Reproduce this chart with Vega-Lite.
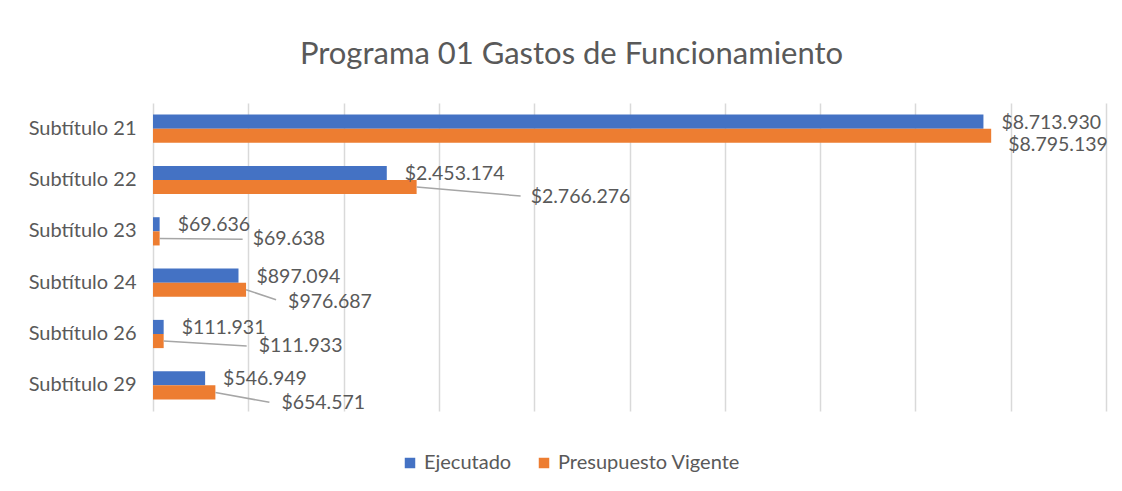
{
  "$schema": "https://vega.github.io/schema/vega-lite/v6.json",
  "width": 953,
  "height": 308,
  "autosize": "none",
  "padding": {"left": 153, "top": 103, "right": 16, "bottom": 80},
  "background": "white",
  "config": {
    "locale": {"number": {"decimal": ",", "thousands": ".", "grouping": [3], "currency": ["$", ""]}},
    "view": {"stroke": null},
    "font": "Lato"
  },
  "title": {
    "text": "Programa 01 Gastos de Funcionamiento",
    "fontSize": 31,
    "font": "Lato",
    "fontWeight": "normal",
    "color": "#595959",
    "anchor": "middle",
    "dx": -58,
    "offset": 32
  },
  "data": {
    "values": [
      {"cat": "Subtítulo 21", "serie": "Ejecutado", "valor": 8713930},
      {"cat": "Subtítulo 21", "serie": "Presupuesto Vigente", "valor": 8795139},
      {"cat": "Subtítulo 22", "serie": "Ejecutado", "valor": 2453174},
      {"cat": "Subtítulo 22", "serie": "Presupuesto Vigente", "valor": 2766276},
      {"cat": "Subtítulo 23", "serie": "Ejecutado", "valor": 69636},
      {"cat": "Subtítulo 23", "serie": "Presupuesto Vigente", "valor": 69638},
      {"cat": "Subtítulo 24", "serie": "Ejecutado", "valor": 897094},
      {"cat": "Subtítulo 24", "serie": "Presupuesto Vigente", "valor": 976687},
      {"cat": "Subtítulo 26", "serie": "Ejecutado", "valor": 111931},
      {"cat": "Subtítulo 26", "serie": "Presupuesto Vigente", "valor": 111933},
      {"cat": "Subtítulo 29", "serie": "Ejecutado", "valor": 546949},
      {"cat": "Subtítulo 29", "serie": "Presupuesto Vigente", "valor": 654571}
    ]
  },
  "encoding": {
    "y": {
      "field": "cat",
      "type": "nominal",
      "sort": null,
      "scale": {"paddingInner": 0.45, "paddingOuter": 0.225},
      "axis": {"title": null, "ticks": false, "domain": false, "grid": false, "labelPadding": 17, "labelFontSize": 20, "labelFont": "Lato", "labelColor": "#595959"}
    },
    "yOffset": {"field": "serie", "type": "nominal", "sort": ["Ejecutado", "Presupuesto Vigente"]},
    "x": {
      "field": "valor",
      "type": "quantitative",
      "scale": {"domain": [0, 10000000], "nice": false},
      "axis": {"title": null, "labels": false, "ticks": false, "domain": false, "grid": true, "gridColor": "#d9d9d9", "gridWidth": 1.5,
        "values": [0, 1000000, 2000000, 3000000, 4000000, 5000000, 6000000, 7000000, 8000000, 9000000, 10000000]}
    }
  },
  "layer": [
    {
      "mark": {"type": "bar"},
      "encoding": {
        "color": {
          "field": "serie",
          "type": "nominal",
          "scale": {"domain": ["Ejecutado", "Presupuesto Vigente"], "range": ["#4472C4", "#ED7D31"]},
          "legend": {"title": null, "orient": "none", "legendX": 247, "legendY": 350, "direction": "horizontal", "symbolType": "square", "symbolSize": 110, "symbolStrokeWidth": 0, "labelFontSize": 20, "labelFont": "Lato", "labelColor": "#595959", "labelOffset": 4, "labelLimit": 400, "columnPadding": 22, "padding": 0}
        }
      }
    },
    {
      "transform": [{"filter": "datum.serie === 'Ejecutado'"}],
      "mark": {"type": "text", "align": "left", "baseline": "middle", "dx": 18, "dy": 1, "fontSize": 19.5, "font": "Lato", "color": "#595959"},
      "encoding": {"text": {"field": "valor", "type": "quantitative", "format": "$,.0f"}}
    },
    {
      "transform": [{"filter": "datum.serie === 'Presupuesto Vigente' && datum.cat === 'Subtítulo 21'"}],
      "mark": {"type": "text", "align": "left", "baseline": "middle", "dx": 17, "dy": 9, "fontSize": 19.5, "font": "Lato", "color": "#595959"},
      "encoding": {"text": {"field": "valor", "type": "quantitative", "format": "$,.0f"}}
    },
    {
      "transform": [{"filter": "datum.serie === 'Presupuesto Vigente' && datum.cat === 'Subtítulo 22'"}],
      "mark": {"type": "text", "align": "left", "baseline": "middle", "dx": 114, "dy": 10, "fontSize": 19.5, "font": "Lato", "color": "#595959"},
      "encoding": {"text": {"field": "valor", "type": "quantitative", "format": "$,.0f"}}
    },
    {
      "transform": [{"filter": "datum.serie === 'Presupuesto Vigente' && datum.cat === 'Subtítulo 23'"}],
      "mark": {"type": "text", "align": "left", "baseline": "middle", "dx": 93, "dy": 1, "fontSize": 19.5, "font": "Lato", "color": "#595959"},
      "encoding": {"text": {"field": "valor", "type": "quantitative", "format": "$,.0f"}}
    },
    {
      "transform": [{"filter": "datum.serie === 'Presupuesto Vigente' && datum.cat === 'Subtítulo 24'"}],
      "mark": {"type": "text", "align": "left", "baseline": "middle", "dx": 42, "dy": 12, "fontSize": 19.5, "font": "Lato", "color": "#595959"},
      "encoding": {"text": {"field": "valor", "type": "quantitative", "format": "$,.0f"}}
    },
    {
      "transform": [{"filter": "datum.serie === 'Presupuesto Vigente' && datum.cat === 'Subtítulo 26'"}],
      "mark": {"type": "text", "align": "left", "baseline": "middle", "dx": 95, "dy": 5, "fontSize": 19.5, "font": "Lato", "color": "#595959"},
      "encoding": {"text": {"field": "valor", "type": "quantitative", "format": "$,.0f"}}
    },
    {
      "transform": [{"filter": "datum.serie === 'Presupuesto Vigente' && datum.cat === 'Subtítulo 29'"}],
      "mark": {"type": "text", "align": "left", "baseline": "middle", "dx": 66, "dy": 11, "fontSize": 19.5, "font": "Lato", "color": "#595959"},
      "encoding": {"text": {"field": "valor", "type": "quantitative", "format": "$,.0f"}}
    },
    {
      "transform": [{"filter": "datum.serie === 'Presupuesto Vigente' && datum.cat === 'Subtítulo 22'"}],
      "mark": {"type": "rule", "color": "#a6a6a6", "strokeWidth": 1.5, "x2Offset": 104, "yOffset": 1, "y2Offset": 16},
      "encoding": {"x2": {"field": "valor"}, "y2": {"field": "cat"}}
    },
    {
      "transform": [{"filter": "datum.serie === 'Presupuesto Vigente' && datum.cat === 'Subtítulo 23'"}],
      "mark": {"type": "rule", "color": "#a6a6a6", "strokeWidth": 1.5, "x2Offset": 83, "yOffset": 1, "y2Offset": 8},
      "encoding": {"x2": {"field": "valor"}, "y2": {"field": "cat"}}
    },
    {
      "transform": [{"filter": "datum.serie === 'Presupuesto Vigente' && datum.cat === 'Subtítulo 24'"}],
      "mark": {"type": "rule", "color": "#a6a6a6", "strokeWidth": 1.5, "x2Offset": 30, "yOffset": 1, "y2Offset": 17},
      "encoding": {"x2": {"field": "valor"}, "y2": {"field": "cat"}}
    },
    {
      "transform": [{"filter": "datum.serie === 'Presupuesto Vigente' && datum.cat === 'Subtítulo 26'"}],
      "mark": {"type": "rule", "color": "#a6a6a6", "strokeWidth": 1.5, "x2Offset": 83, "yOffset": 2, "y2Offset": 12},
      "encoding": {"x2": {"field": "valor"}, "y2": {"field": "cat"}}
    },
    {
      "transform": [{"filter": "datum.serie === 'Presupuesto Vigente' && datum.cat === 'Subtítulo 29'"}],
      "mark": {"type": "rule", "color": "#a6a6a6", "strokeWidth": 1.5, "x2Offset": 54, "yOffset": 2, "y2Offset": 17},
      "encoding": {"x2": {"field": "valor"}, "y2": {"field": "cat"}}
    }
  ]
}
